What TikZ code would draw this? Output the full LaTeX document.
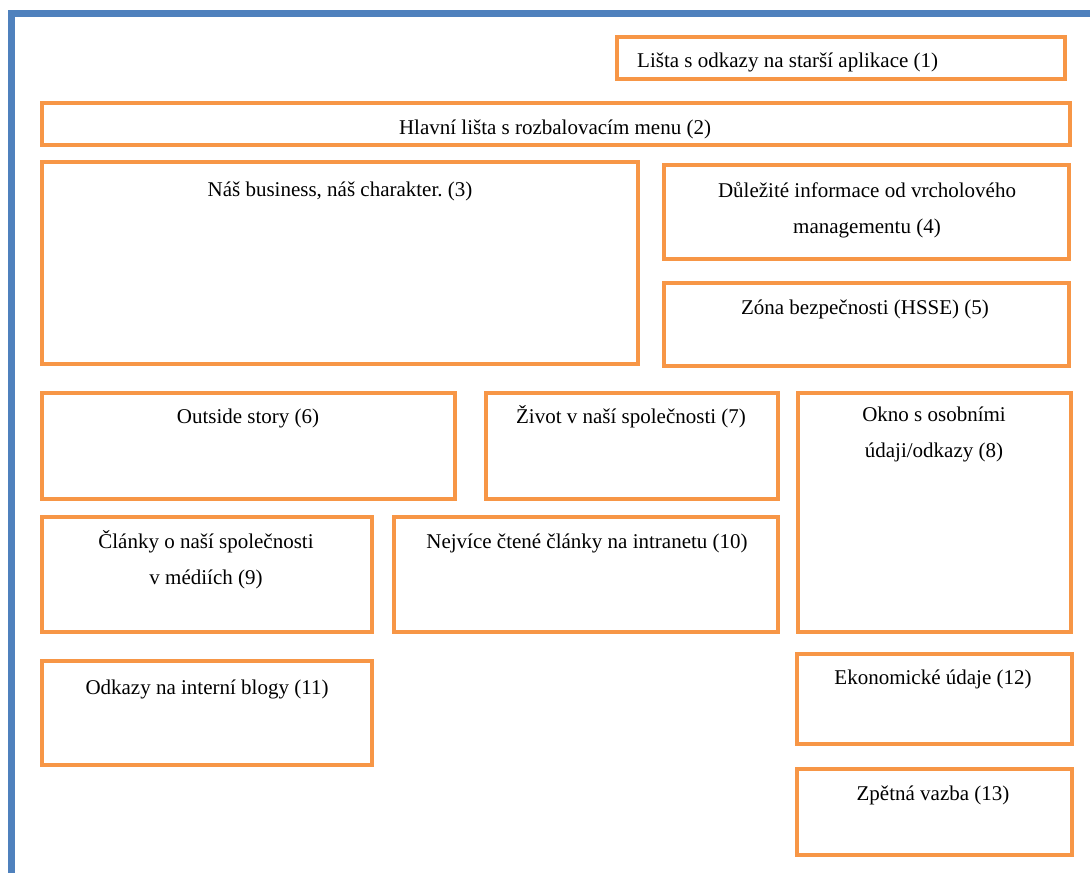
\documentclass[tikz,border=0pt]{standalone}
\usepackage{fontspec}
\setmainfont{Liberation Serif}
\usepackage{tikz}
\usetikzlibrary{positioning}
\definecolor{framblue}{HTML}{4F81BD}
\definecolor{boxorange}{HTML}{F79646}
\frenchspacing
\tikzset{
    panel/.style={draw=boxorange, line width=4pt},
    txt/.style={font=\fontsize{21}{36}\selectfont, inner sep=0pt, align=center},
    oneline/.style={txt, text height=15pt, text depth=5pt}
}

\begin{document}
\begin{tikzpicture}[x=1pt,y=-1pt]
    \useasboundingbox (0,0) rectangle (1090,873);
    % page frame
    \draw[framblue, line width=7pt] (1090,13.5) -- (11.5,13.5) -- (11.5,873);
    % top bars
    \draw[panel] (617,37) rectangle (1065,79);
    \node[oneline, anchor=west] (lista) at (637,62) {Lišta s odkazy na starší aplikace (1)};
    \draw[panel] (42,103) rectangle (1070,145);
    \node[oneline] (hlavni) at (555,129) {Hlavní lišta s rozbalovacím menu (2)};
    % row 1
    \draw[panel] (42,162) rectangle (638,364);
    \node[oneline] (business) at (340,191) {Náš business, náš charakter. (3)};
    \draw[panel] (664,165) rectangle (1069,259);
    \node[txt] (info) at (867,210) {Důležité informace od vrcholového\\managementu (4)};
    \draw[panel] (664,283) rectangle (1069,366);
    \node[oneline] (hsse) at (865,309) {Zóna bezpečnosti (HSSE) (5)};
    % row 2
    \draw[panel] (42,393) rectangle (455,499);
    \node[oneline] (outside) at (248,418) {Outside story (6)};
    \draw[panel] (486,393) rectangle (778,499);
    \node[oneline] (zivot) at (631,418) {Život v naší společnosti (7)};
    \draw[panel] (798,393) rectangle (1071,632);
    \node[txt] (okno) at (934,434) {Okno s osobními\\údaji/odkazy (8)};
    % row 3
    \draw[panel] (42,517) rectangle (372,632);
    \node[txt] (clanky) at (206,560) {Články o naší společnosti\\v médiích (9)};
    \draw[panel] (394,517) rectangle (778,632);
    \node[oneline] (ctene) at (587,543) {Nejvíce čtené články na intranetu (10)};
    % row 4
    \draw[panel] (42,661) rectangle (372,765);
    \node[oneline] (blogy) at (207,689) {Odkazy na interní blogy (11)};
    \draw[panel] (797,654) rectangle (1072,744);
    \node[oneline] (ekonom) at (933,679) {Ekonomické údaje (12)};
    \draw[panel] (797,769) rectangle (1072,855);
    \node[oneline] (vazba) at (933,795) {Zpětná vazba (13)};
\end{tikzpicture}
\end{document}
